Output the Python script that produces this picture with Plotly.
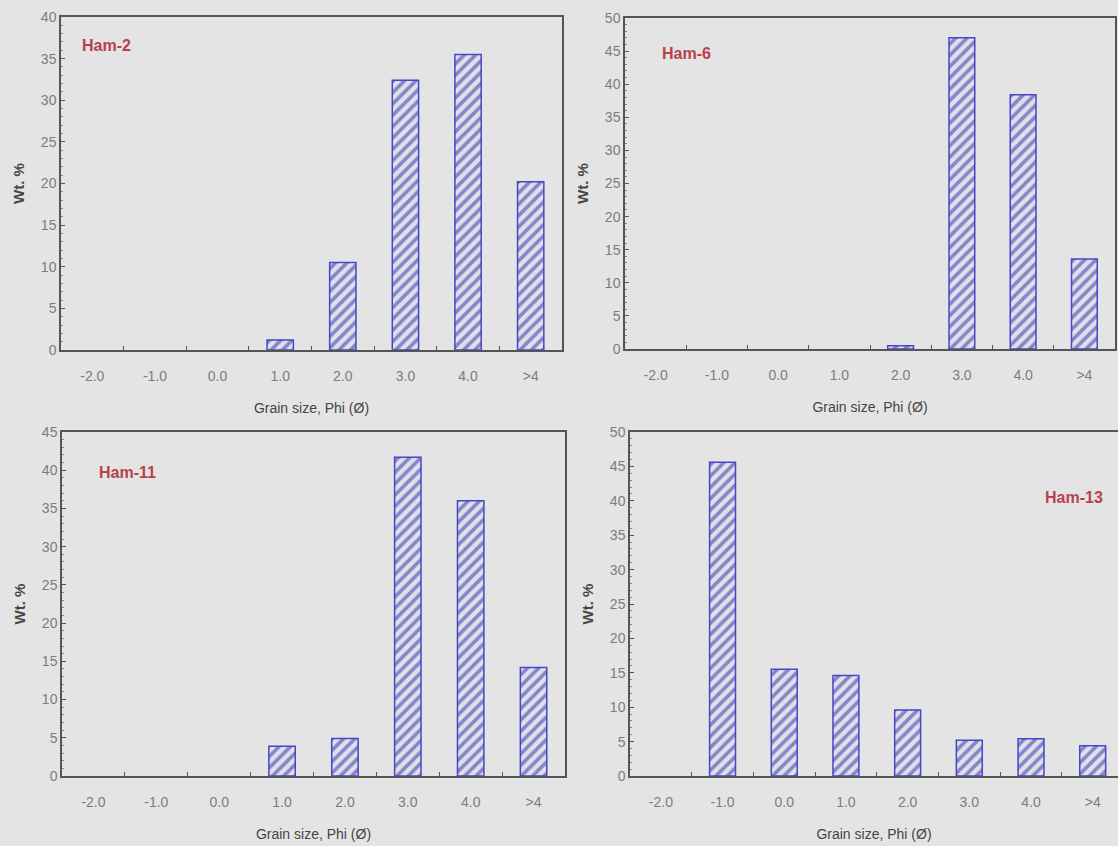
import plotly.graph_objects as go

categories = ["-2.0", "-1.0", "0.0", "1.0", "2.0", "3.0", "4.0", ">4"]
ham2 = [0, 0, 0, 1.2, 10.5, 32.4, 35.5, 20.2]
ham6 = [0, 0, 0, 0, 0.5, 47.0, 38.4, 13.6]
ham11 = [0, 0, 0, 3.9, 4.9, 41.7, 36.0, 14.2]
ham13 = [0, 45.6, 15.5, 14.6, 9.6, 5.2, 5.4, 4.4]
samples = ["Ham-2", "Ham-6", "Ham-11", "Ham-13"]
ymax = [40, 50, 45, 50]

W, H = 1118, 846
BG = "#e4e4e4"
AXC = "#555555"
TICKC = "#7c7c7c"
TITLEC = "#444444"
RED = "#b8404e"

# panel boxes in pixels: (left, right, top, bottom)
boxes = [(61, 562, 17, 350), (625, 1115, 18, 349), (62, 565, 432, 776), (630, 1118, 432, 776)]
xranges = [[-0.5, 7.5], [-0.5, 7.5], [-0.5, 7.5], [-0.5, 7.41]]
series = [ham2, ham6, ham11, ham13]

fig = go.Figure()
for i, (vals, (l, r, t, b)) in enumerate(zip(series, boxes)):
    n = "" if i == 0 else str(i + 1)
    fig.add_trace(go.Bar(
        x=categories, y=vals, width=0.42,
        xaxis="x" + n, yaxis="y" + n,
        marker=dict(color="#dcdce8",
                    line=dict(color="#4646c8", width=[1.5 if v > 0 else 0 for v in vals]),
                    pattern=dict(shape="/", fgcolor="#2a2aa6", bgcolor="#e0e0ea",
                                 size=8, solidity=0.45)),
        showlegend=False, hoverinfo="x+y"))
    xd = [l / W, r / W]
    yd = [1 - b / H, 1 - t / H]
    fig.layout["xaxis" + n] = dict(
        domain=xd, anchor="y" + n, type="category", range=xranges[i],
        automargin=False,
        showline=True, linecolor=AXC, linewidth=1.5, mirror=True,
        ticks="inside", tickson="boundaries", ticklen=4, tickcolor=AXC,
        ticklabelstandoff=12,
        showgrid=False, zeroline=False,
        tickfont=dict(family="Liberation Sans, Arial", size=14, color=TICKC),
        title=dict(text="Grain size, Phi (Ø)", standoff=21,
                   font=dict(family="Liberation Sans Narrow, Liberation Sans", size=14, color=TITLEC)),
    )
    fig.layout["yaxis" + n] = dict(
        domain=yd, anchor="x" + n, range=[0, ymax[i]], dtick=5,
        automargin=False,
        showline=True, linecolor=AXC, linewidth=1.5, mirror=True,
        ticks="inside", ticklen=4, tickcolor=AXC,
        minor=dict(dtick=1, ticks="inside", ticklen=2, tickcolor="#888888"),
        showgrid=False, zeroline=False,
        tickfont=dict(family="Liberation Sans, Arial", size=14, color=TICKC),
        title=dict(text="<b>Wt. %</b>", standoff=13,
                   font=dict(family="Liberation Sans, Arial", size=15, color=TITLEC)),
    )

label_pos = [(80, 45, "left"), (660, 54, "left"), (97, 472, "left"), (1105, 497, "right")]
for s, (px, py, anc) in zip(samples, label_pos):
    fig.add_annotation(text="<b>" + s + "</b>", xref="paper", yref="paper",
                       x=px / W, y=1 - py / H, xanchor=anc, yanchor="middle",
                       showarrow=False,
                       font=dict(family="Liberation Sans, Arial", size=16, color=RED))

fig.update_layout(width=W, height=H, margin=dict(l=0, r=0, t=0, b=0),
                  paper_bgcolor=BG, plot_bgcolor=BG, bargap=0.5)
fig.write_html("out.html", config={"displayModeBar": False},
               post_script="document.body.style.margin='0';document.body.style.background='#e4e4e4';")
